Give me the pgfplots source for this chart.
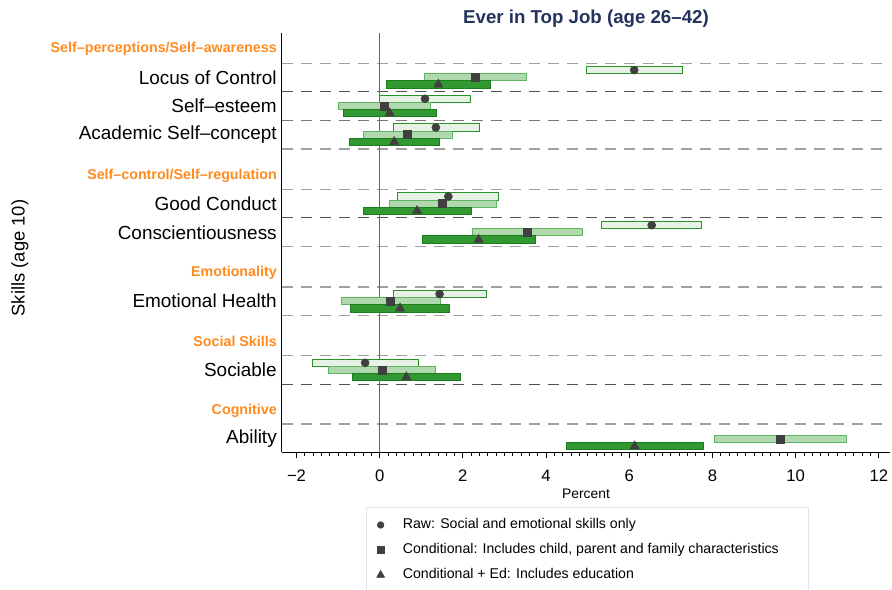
\documentclass[border=0pt]{standalone}
\usepackage{fontspec}
\setmainfont{Liberation Sans}
\usepackage{pgfplots}
\pgfplotsset{compat=1.18}
\definecolor{rawfill}{RGB}{229,242,229}
\definecolor{rawdraw}{RGB}{40,145,40}
\definecolor{condfill}{RGB}{176,217,176}
\definecolor{conddraw}{RGB}{95,180,95}
\definecolor{edfill}{RGB}{50,152,50}
\definecolor{eddraw}{RGB}{28,125,28}
\definecolor{mk}{RGB}{64,64,64}
\definecolor{hdr}{RGB}{255,138,30}
\definecolor{ttl}{RGB}{36,51,94}
\definecolor{dashL}{RGB}{160,160,160}
\definecolor{dashM}{RGB}{120,120,120}
\definecolor{dashD}{RGB}{80,80,80}
\definecolor{lgbox}{RGB}{222,232,232}
\tikzset{
  rawbar/.style={draw=rawdraw, fill=rawfill, line width=0.75pt},
  condbar/.style={draw=conddraw, fill=condfill, line width=0.75pt},
  edbar/.style={draw=eddraw, fill=edfill, line width=0.75pt},
  sepl/.style={line width=1pt, dash pattern=on 8.25pt off 6pt},
}
\pgfplotsset{
  legsmall/.style={legend image code/.code={\draw[##1, mark size=#1] plot coordinates {(0pt,0pt)};}},
}
% #1 style, #2 low, #3 high, #4 row position
\newcommand\cibar[4]{\pgfmathsetmacro\ya{#4-3.6}\pgfmathsetmacro\yb{#4+3.6}%
  \edef\tmp{\noexpand\addplot[#1, forget plot] coordinates {(#2,\ya) (#3,\ya) (#3,\yb) (#2,\yb)} --cycle;}\tmp}
\newcommand\sepline[2]{\edef\tmp{\noexpand\draw[sepl, #1] (axis cs:-2.349,#2) -- (axis cs:12.27,#2);}\tmp}
\begin{document}
\begin{tikzpicture}
\begin{axis}[
  scale only axis, width=456pt, height=314.25pt,
  xmin=-2.349, xmax=12.27, ymin=0, ymax=419,
  axis x line*=bottom, axis y line*=left,
  axis line style={black, line width=0.75pt},
  tick align=outside,
  major tick length=4.5pt, minor tick length=3pt,
  xtick={-2,0,2,4,6,8,10,12},
  xticklabels={−2,0,2,4,6,8,10,12},
  minor x tick num=9,
  x tick style={black, line width=0.6pt},
  x tick label style={font=\fontsize{12.5}{15}\selectfont, inner sep=0pt},
  xticklabel shift=8.8pt,
  ytick={374.7,346.0,317.3,248.3,219.6,150.8,82.0,13.0},
  yticklabels={Locus of Control,Self–esteem,Academic Self–concept,Good Conduct,Conscientiousness,Emotional Health,Sociable,Ability},
  y tick style={draw=none},
  y tick label style={font=\fontsize{14.2}{17}\selectfont, inner sep=0pt},
  yticklabel shift=-0.75pt,
  extra y ticks={403,276.3,179.3,110.3,41.3},
  extra y tick labels={Self–perceptions/Self–awareness,Self–control/Self–regulation,Emotionality,Social Skills,Cognitive},
  extra y tick style={y tick label style={font=\bfseries\fontsize{10.7}{13}\selectfont, text=hdr}},
  title={Ever in Top Job (age 26–42)},
  title style={at={(axis description cs:0.5,1)}, anchor=center, yshift=4.5pt, font=\bfseries\fontsize{14}{16}\selectfont, text=ttl},
  xlabel={Percent},
  xlabel style={at={(axis description cs:0.5,0)}, anchor=center, yshift=-31.5pt, font=\fontsize{10.4}{12}\selectfont},
  ylabel={Skills (age 10)},
  ylabel style={at={(axis description cs:-0.431,0.463)}, anchor=center, font=\fontsize{13.8}{16}\selectfont},
  legend style={draw=none, fill=none, at={(axis description cs:0.1558,-0.1575)}, anchor=north west,
    inner sep=0pt, outer sep=0pt, row sep=8.25pt, column sep=13.7pt,
    font=\fontsize{10.6}{12}\selectfont, nodes={inner sep=0pt, text height=8pt, text depth=2.5pt}},
  legend cell align=left,
]
% dashed separators
\sepline{dashL}{388.7}
\sepline{dashD}{360.3}
\sepline{dashM}{331.7}
\sepline{dashL}{303}
\sepline{dashL}{262.7}
\sepline{dashD}{234.3}
\sepline{dashL}{205.3}
\sepline{dashL}{165}
\sepline{dashL}{136.3}
\sepline{dashL}{96.7}
\sepline{dashD}{67.7}
\sepline{dashL}{28}
\draw[black!60, line width=0.9pt] (axis cs:0,0) -- (axis cs:0,419);
% Raw (light)
\cibar{rawbar}{4.97}{7.27}{381.9}
\cibar{rawbar}{0.00}{2.18}{353.2}
\cibar{rawbar}{0.32}{2.39}{324.5}
\cibar{rawbar}{0.42}{2.86}{255.5}
\cibar{rawbar}{5.34}{7.74}{226.8}
\cibar{rawbar}{0.32}{2.56}{158.0}
\cibar{rawbar}{-1.61}{0.93}{89.2}
% Conditional (medium)
\cibar{condbar}{1.07}{3.53}{374.7}
\cibar{condbar}{-0.98}{1.22}{346.0}
\cibar{condbar}{-0.38}{1.74}{317.3}
\cibar{condbar}{0.24}{2.81}{248.3}
\cibar{condbar}{2.22}{4.87}{219.6}
\cibar{condbar}{-0.92}{1.46}{150.8}
\cibar{condbar}{-1.24}{1.34}{82.0}
\cibar{condbar}{8.06}{11.23}{13.0}
% Conditional + Ed (dark)
\cibar{edbar}{0.17}{2.66}{367.5}
\cibar{edbar}{-0.88}{1.36}{338.8}
\cibar{edbar}{-0.72}{1.43}{310.1}
\cibar{edbar}{-0.40}{2.20}{241.1}
\cibar{edbar}{1.04}{3.74}{212.4}
\cibar{edbar}{-0.71}{1.68}{143.6}
\cibar{edbar}{-0.66}{1.94}{74.8}
\cibar{edbar}{4.49}{7.78}{5.8}
% point estimates
\addplot[only marks, mark=*, mark size=3pt, color=mk, legsmall=2.5pt]
  coordinates {(6.12,381.9) (1.09,353.2) (1.35,324.5) (1.65,255.5) (6.54,226.8) (1.44,158.0) (-0.35,89.2)};
\addlegendentry{Raw: Social and emotional skills only}
\addplot[only marks, mark=square*, mark size=3pt, color=mk, legsmall=2.5pt]
  coordinates {(2.30,374.7) (0.11,346.0) (0.67,317.3) (1.51,248.3) (3.54,219.6) (0.26,150.8) (0.05,82.0) (9.64,13.0)};
\addlegendentry{Conditional: Includes child, parent and family characteristics}
\addplot[only marks, mark=triangle*, mark size=4pt, color=mk, legsmall=3.4pt]
  coordinates {(1.41,367.5) (0.24,338.8) (0.35,310.1) (0.90,241.1) (2.38,212.4) (0.49,143.6) (0.64,74.8) (6.13,5.8)};
\addlegendentry{Conditional + Ed: Includes education}
\end{axis}
\begin{scope}[shift={(-211.5pt,339pt)}, x=0.75pt, y=-0.75pt]
  \draw[lgbox, line width=0.75pt] (366,507) rectangle (808,600);
\end{scope}
\pgfresetboundingbox
\begin{scope}[shift={(-211.5pt,339pt)}, x=0.75pt, y=-0.75pt]
  \path[use as bounding box] (0,0) rectangle (892,589);
\end{scope}
\end{tikzpicture}
\end{document}
